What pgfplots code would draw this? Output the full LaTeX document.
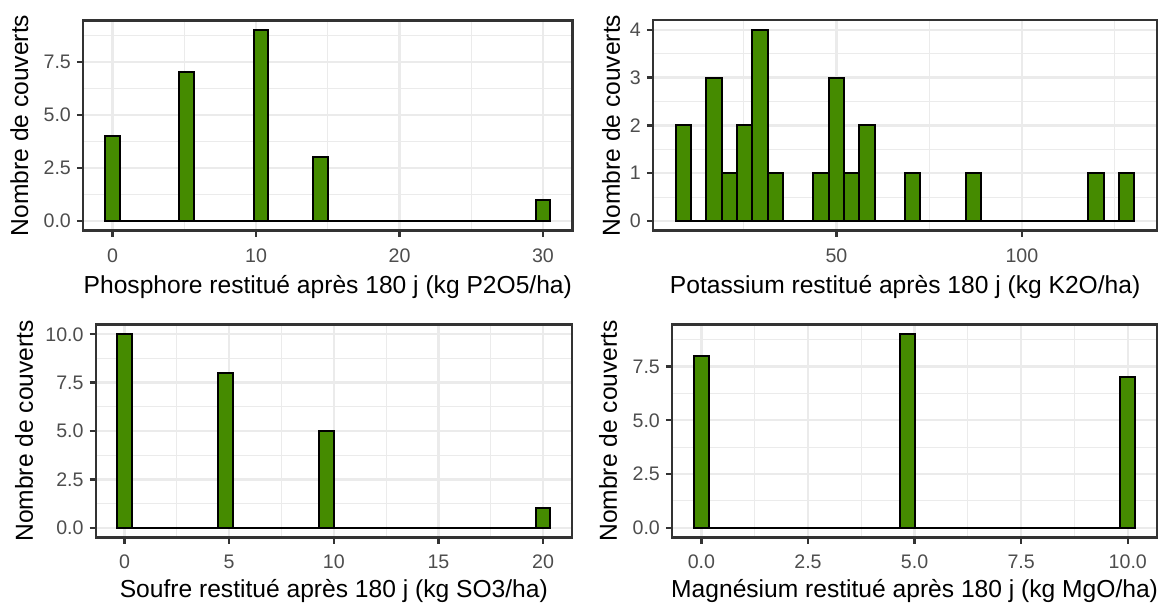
\documentclass[border=0pt]{standalone}
\usepackage{pgfplots}
\pgfplotsset{compat=1.18}
\usepackage{fontspec}
\setmainfont{Liberation Sans}
\definecolor{barfill}{HTML}{458B00}
\definecolor{gridgrey}{HTML}{EBEBEB}
\definecolor{framegrey}{HTML}{333333}
\definecolor{tickgrey}{HTML}{4D4D4D}
\pgfplotsset{
  ggpanel/.style={
    scale only axis,
    anchor=south west,
    grid=both,
    major grid style={draw=gridgrey, line width=1.19pt},
    minor grid style={draw=gridgrey, line width=0.6pt},
    axis line style={draw=framegrey, line width=1.19pt},
    tick style={draw=framegrey, line width=1.19pt},
    major tick length=3.07pt,
    minor tick length=0pt,
    tick align=outside,
    xtick pos=left, ytick pos=left,
    xticklabel style={font=\fontsize{9.8}{11}\selectfont, text=tickgrey, anchor=center, inner sep=0pt, yshift=-9.3pt},
    yticklabel style={font=\fontsize{9.8}{11}\selectfont, text=tickgrey, anchor=east, inner sep=0pt, xshift=-2.8pt},
    xlabel style={font=\fontsize{12.3}{14}\selectfont, text=black, anchor=center},
    ylabel style={font=\fontsize{12.3}{14}\selectfont, text=black, anchor=center},
    ylabel={Nombre de couverts},
  },
  hist/.style={ybar interval, fill=barfill, draw=black, line width=1.0pt},
}
\begin{document}
\begin{tikzpicture}
\useasboundingbox (0,0) rectangle (582pt,302.5pt);
% Phosphore
\begin{axis}[ggpanel,
  at={(41.5pt,187.2pt)}, width=244.8pt, height=105.15pt,
  xmin=-2.069, xmax=32.069, ymin=-0.45, ymax=9.45,
  xtick={0,10,20,30}, xticklabels={0,10,20,30}, minor xtick={5,15,25},
  ytick={0,2.5,5,7.5}, yticklabels={0.0,2.5,5.0,7.5}, minor ytick={1.25,3.75,6.25,8.75},
  xlabel={Phosphore restitué après 180 j (kg P2O5/ha)},
  xlabel style={at={(axis description cs:0.5,-0.2668)}},
  ylabel style={at={(axis description cs:-0.1303,0.5)}},
]
\addplot[hist] coordinates {(-0.5172,4) (0.5172,0) (1.5517,0) (2.5862,0) (3.6207,0) (4.6552,7) (5.6897,0) (6.7241,0) (7.7586,0) (8.7931,0) (9.8276,9) (10.8621,0) (11.8966,0) (12.9310,0) (13.9655,3) (15.0000,0) (16.0345,0) (17.0690,0) (18.1034,0) (19.1379,0) (20.1724,0) (21.2069,0) (22.2414,0) (23.2759,0) (24.3103,0) (25.3448,0) (26.3793,0) (27.4138,0) (28.4483,0) (29.4828,1) (30.5172,0)};
\end{axis}
% Potassium
\begin{axis}[ggpanel,
  at={(326.5pt,187.2pt)}, width=252.1pt, height=105.15pt,
  xmin=0.52, xmax=136.48, ymin=-0.2, ymax=4.2,
  xtick={50,100}, xticklabels={50,100}, minor xtick={25,75,125},
  ytick={0,1,2,3,4}, yticklabels={0,1,2,3,4}, minor ytick={0.5,1.5,2.5,3.5},
  xlabel={Potassium restitué après 180 j (kg K2O/ha)},
  xlabel style={at={(axis description cs:0.5,-0.2668)}},
  ylabel style={at={(axis description cs:-0.0833,0.5)}},
]
\addplot[hist] coordinates {(6.70,2) (10.82,0) (14.94,3) (19.06,1) (23.18,2) (27.30,4) (31.42,1) (35.54,0) (39.66,0) (43.78,1) (47.90,3) (52.02,1) (56.14,2) (60.26,0) (64.38,0) (68.50,1) (72.62,0) (76.74,0) (80.86,0) (84.98,1) (89.10,0) (93.22,0) (97.34,0) (101.46,0) (105.58,0) (109.70,0) (113.82,0) (117.94,1) (122.06,0) (126.18,1) (130.30,0)};
\end{axis}
% Soufre
\begin{axis}[ggpanel,
  at={(47.85pt,33.8pt)}, width=238.1pt, height=106.4pt,
  xmin=-1.379, xmax=21.379, ymin=-0.5, ymax=10.5,
  xtick={0,5,10,15,20}, xticklabels={0,5,10,15,20}, minor xtick={2.5,7.5,12.5,17.5},
  ytick={0,2.5,5,7.5,10}, yticklabels={0.0,2.5,5.0,7.5,10.0}, minor ytick={1.25,3.75,6.25,8.75},
  xlabel={Soufre restitué après 180 j (kg SO3/ha)},
  xlabel style={at={(axis description cs:0.5,-0.251)}},
  ylabel style={at={(axis description cs:-0.1506,0.5)}},
]
\addplot[hist] coordinates {(-0.3448,10) (0.3448,0) (1.0345,0) (1.7241,0) (2.4138,0) (3.1034,0) (3.7931,0) (4.4828,8) (5.1724,0) (5.8621,0) (6.5517,0) (7.2414,0) (7.9310,0) (8.6207,0) (9.3103,5) (10.0000,0) (10.6897,0) (11.3793,0) (12.0690,0) (12.7586,0) (13.4483,0) (14.1379,0) (14.8276,0) (15.5172,0) (16.2069,0) (16.8966,0) (17.5862,0) (18.2759,0) (18.9655,0) (19.6552,1) (20.3448,0)};
\end{axis}
% Magnesium
\begin{axis}[ggpanel,
  at={(336pt,33.8pt)}, width=242.6pt, height=106.4pt,
  xmin=-0.690, xmax=10.690, ymin=-0.45, ymax=9.45,
  xtick={0,2.5,5,7.5,10}, xticklabels={0.0,2.5,5.0,7.5,10.0}, minor xtick={1.25,3.75,6.25,8.75},
  ytick={0,2.5,5,7.5}, yticklabels={0.0,2.5,5.0,7.5}, minor ytick={1.25,3.75,6.25,8.75},
  xlabel={Magnésium restitué après 180 j (kg MgO/ha)},
  xlabel style={at={(axis description cs:0.5,-0.251)}},
  ylabel style={at={(axis description cs:-0.1319,0.5)}},
]
\addplot[hist] coordinates {(-0.1724,8) (0.1724,0) (0.5172,0) (0.8621,0) (1.2069,0) (1.5517,0) (1.8966,0) (2.2414,0) (2.5862,0) (2.9310,0) (3.2759,0) (3.6207,0) (3.9655,0) (4.3103,0) (4.6552,9) (5.0000,0) (5.3448,0) (5.6897,0) (6.0345,0) (6.3793,0) (6.7241,0) (7.0690,0) (7.4138,0) (7.7586,0) (8.1034,0) (8.4483,0) (8.7931,0) (9.1379,0) (9.4828,0) (9.8276,7) (10.1724,0)};
\end{axis}
\end{tikzpicture}
\end{document}
